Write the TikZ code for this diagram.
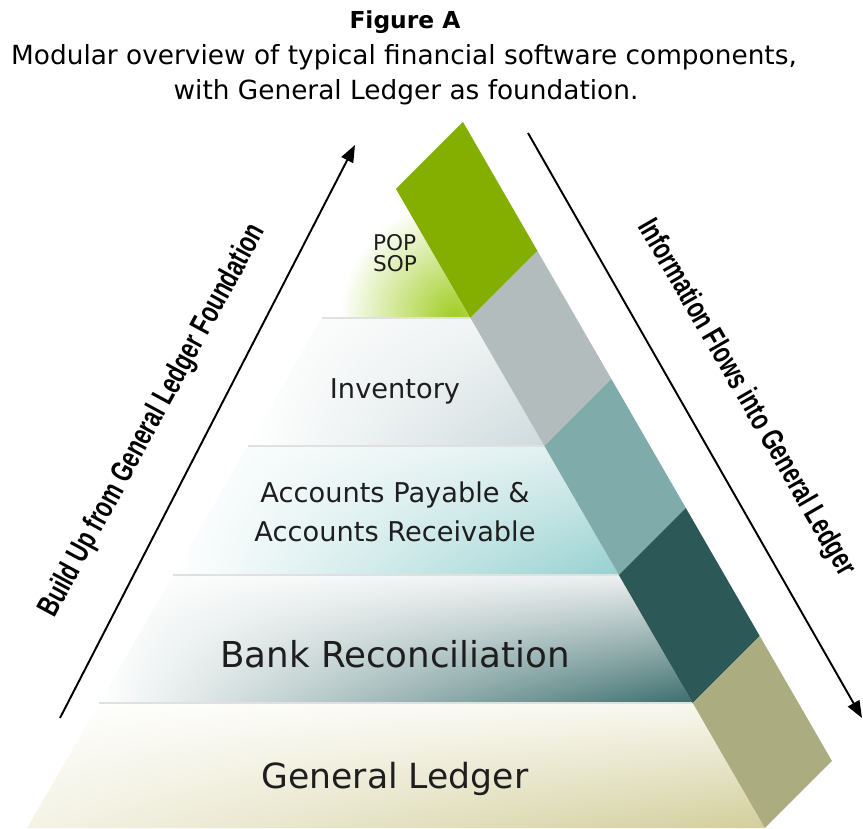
\documentclass[tikz,border=0pt]{standalone}
\usepackage{fontspec}
\setmainfont{DejaVu Sans}
\newfontfamily\narrowfont[FakeStretch=0.72]{Liberation Sans}
\usetikzlibrary{arrows.meta,positioning,shadings}

% Band colours (top to bottom)
\definecolor{bandgreen}{RGB}{132,174,0}
\definecolor{bandgrey}{RGB}{179,188,188}
\definecolor{bandteal}{RGB}{127,172,170}
\definecolor{banddark}{RGB}{44,88,88}
\definecolor{bandolive}{RGB}{171,172,127}
% Layer tints
\definecolor{popglow}{RGB}{160,206,36}
\definecolor{invtop}{RGB}{238,242,242}
\definecolor{invbot}{RGB}{205,218,220}
\definecolor{aptop}{RGB}{222,238,238}
\definecolor{apbot}{RGB}{150,208,208}
\definecolor{banktop}{RGB}{236,238,238}
\definecolor{bankbot}{RGB}{58,108,108}
\definecolor{gltop}{RGB}{248,247,238}
\definecolor{glleft}{RGB}{244,243,230}
\definecolor{glbot}{RGB}{210,206,155}
\definecolor{labelgrey}{RGB}{30,30,30}

\tikzset{
  layerline/.style={draw=black!12, line width=0.6pt},
  layertext/.style={text=labelgrey, inner sep=0pt},
  flowarrow/.style={-{Triangle[length=3.4mm,width=2.6mm]}, line width=1.1pt},
  sidelabel/.style={font=\narrowfont\bfseries\fontsize{17.5}{20}\selectfont, inner sep=0pt},
  titletext/.style={font=\fontsize{15}{18}\selectfont, inner sep=0pt, anchor=base}
}

\begin{document}
\begin{tikzpicture}[x=0.2mm, y=0.2mm]

  \useasboundingbox (0,0) rectangle (863,828);

  % Apex of the pyramid and slope of its sides (tan 30)
  \pgfmathsetmacro{\apx}{396}
  \pgfmathsetmacro{\apy}{639}
  \pgfmathsetmacro{\slope}{0.57735}
  \pgfmathsetmacro{\bw}{67}

  % === Pyramid layers ===
  % Top triangle: green glow in the lower right corner
  \begin{scope}
    \clip (\apx,\apy) -- ({\apx-(\apy-510)*\slope},510) -- ({\apx+(\apy-510)*\slope},510) -- cycle;
    \shade[inner color=popglow, outer color=white] (455,512) circle (115);
  \end{scope}

  % Trapezoids below
  \foreach \yb/\yt/\ur/\ll/\lr in {382/510/invtop/white/invbot,
                                 253/382/aptop/white/apbot,
                                 125/253/banktop/white/bankbot,
                                 0/125/gltop/glleft/glbot} {
    \shade[upper left=white, upper right=\ur, lower left=\ll, lower right=\lr]
      ({\apx-(\apy-\yb)*\slope},\yb) -- ({\apx+(\apy-\yb)*\slope},\yb)
      -- ({\apx+(\apy-\yt)*\slope},\yt) -- ({\apx-(\apy-\yt)*\slope},\yt) -- cycle;
    \draw[layerline] ({\apx-(\apy-\yt)*\slope},\yt) -- ({\apx+(\apy-\yt)*\slope},\yt);
  }

  % === Coloured band along the right side ===
  \foreach \ya/\yb/\col in {639/510/bandgreen, 510/382/bandgrey, 382/253/bandteal,
                            253/125/banddark, 125/0/bandolive} {
    \fill[\col] ({\apx+(\apy-\ya)*\slope},\ya) -- ({\apx+(\apy-\yb)*\slope},\yb)
      -- ++(\bw,\bw) -- ({\apx+(\apy-\ya)*\slope+\bw},{\ya+\bw}) -- cycle;
  }

  % === Layer labels ===
  \node[layertext, align=left, font=\fontsize{12.3}{12}\selectfont] (pop) at (395,575) {POP\\SOP};
  \node[layertext, anchor=base, font=\fontsize{15.5}{18}\selectfont] (inventory) at (395,429) {Inventory};
  \node[layertext, align=center, font=\fontsize{15.5}{22.2}\selectfont] (payables) at (395,316)
    {Accounts Payable \&\\Accounts Receivable};
  \node[layertext, anchor=base, font=\fontsize{20.3}{24}\selectfont] (bankrec) at (395,161) {Bank Reconciliation};
  \node[layertext, anchor=base, font=\fontsize{19.7}{24}\selectfont] (ledger) at (395,40) {General Ledger};

  % === Title ===
  \node[titletext, font=\bfseries\fontsize{13.3}{16}\selectfont] (title) at (405,799) {Figure A};
  \node[titletext] (caption) at (404,763) {Modular overview of typical financial software components,};
  \node[titletext] (captiontwo) at (406,728) {with General Ledger as foundation.};

  % === Side arrows ===
  \coordinate (buildtail) at (60,110);
  \coordinate (buildtip) at (355,683);
  \draw[flowarrow] (buildtail) -- (buildtip);
  \node[sidelabel, rotate=61.5] (buildlabel) at (153,407) {Build Up from General Ledger Foundation};

  \coordinate (flowtail) at (528,695);
  \coordinate (flowtip) at (862,110);
  \draw[flowarrow] (flowtail) -- (flowtip);
  \node[sidelabel, rotate=-60] (flowlabel) at (746,430) {Information Flows into General Ledger};

\end{tikzpicture}
\end{document}
